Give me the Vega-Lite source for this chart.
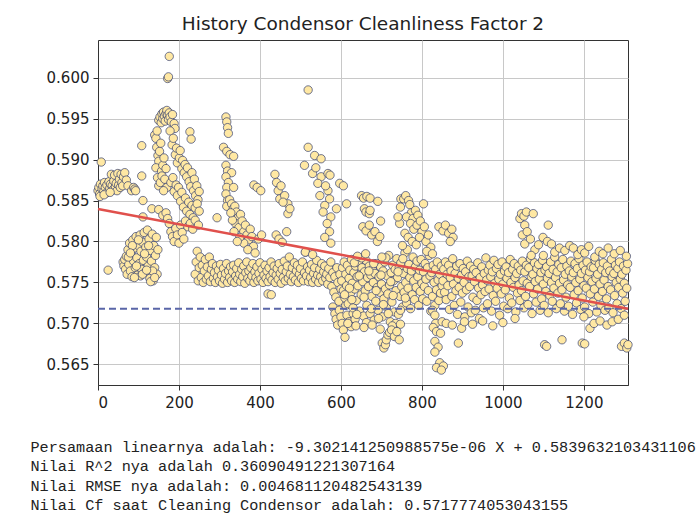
{
"$schema": "https://vega.github.io/schema/vega-lite/v6.json",
"width": 530, "height": 345,
"autosize": {"type": "none"},
"padding": {"left": 98, "top": 40, "right": 69, "bottom": 135},
"background": "white",
"title": {"text": "History Condensor Cleanliness Factor 2", "font": "DejaVu Sans", "fontSize": 18.5, "fontWeight": "normal", "color": "#222222", "offset": 7, "anchor": "middle"},
"datasets": {
"pts": [
{"x":0,"y":0.5862},{"x":2,"y":0.5866},{"x":4,"y":0.5858},{"x":6,"y":0.5870},{"x":8,"y":0.5897},{"x":10,"y":0.5864},{"x":12,"y":0.5868},{"x":14,"y":0.5861},{"x":16,"y":0.5872},{"x":18,"y":0.5866},{"x":20,"y":0.5859},{"x":22,"y":0.5869},{"x":25,"y":0.5765},{"x":27,"y":0.5873},{"x":29,"y":0.5865},{"x":31,"y":0.5870},{"x":33,"y":0.5882},{"x":35,"y":0.5868},{"x":37,"y":0.5863},{"x":39,"y":0.5874},{"x":41,"y":0.5881},{"x":43,"y":0.5867},{"x":45,"y":0.5871},{"x":47,"y":0.5862},{"x":49,"y":0.5883},{"x":51,"y":0.5869},{"x":53,"y":0.5876},{"x":55,"y":0.5866},{"x":57,"y":0.5882},{"x":59,"y":0.5872},{"x":61,"y":0.5868},{"x":63,"y":0.5879},{"x":66,"y":0.5884},{"x":70,"y":0.5875},{"x":74,"y":0.5868},{"x":83,"y":0.5862},{"x":88,"y":0.5866},{"x":91,"y":0.5864},{"x":93,"y":0.5862},{"x":5,"y":0.5855},{"x":15,"y":0.5857},{"x":30,"y":0.5860},
{"x":62,"y":0.5775},{"x":64,"y":0.5770},{"x":66,"y":0.5778},{"x":68,"y":0.5766},{"x":70,"y":0.5782},{"x":72,"y":0.5760},{"x":74,"y":0.5790},{"x":76,"y":0.5772},{"x":78,"y":0.5798},{"x":80,"y":0.5764},{"x":82,"y":0.5785},{"x":84,"y":0.5757},{"x":86,"y":0.5802},{"x":88,"y":0.5776},{"x":90,"y":0.5792},{"x":92,"y":0.5768},{"x":94,"y":0.5806},{"x":96,"y":0.5780},{"x":98,"y":0.5759},{"x":100,"y":0.5795},{"x":102,"y":0.5773},{"x":104,"y":0.5808},{"x":106,"y":0.5788},{"x":108,"y":0.5766},{"x":110,"y":0.5799},{"x":112,"y":0.5777},{"x":114,"y":0.5811},{"x":116,"y":0.5762},{"x":118,"y":0.5793},{"x":120,"y":0.5781},{"x":122,"y":0.5814},{"x":124,"y":0.5770},{"x":126,"y":0.5803},{"x":128,"y":0.5755},{"x":130,"y":0.5789},{"x":132,"y":0.5776},{"x":134,"y":0.5809},{"x":136,"y":0.5752},{"x":138,"y":0.5795},{"x":140,"y":0.5768},{"x":142,"y":0.5783},{"x":144,"y":0.5805},{"x":146,"y":0.5760},{"x":148,"y":0.5790},{"x":95,"y":0.5770},{"x":105,"y":0.5758},{"x":115,"y":0.5785},{"x":125,"y":0.5795},{"x":135,"y":0.5764},{"x":85,"y":0.5795},{"x":75,"y":0.5781},{"x":100,"y":0.5802},{"x":110,"y":0.5760},{"x":120,"y":0.5765},{"x":130,"y":0.5751},{"x":90,"y":0.5756},{"x":80,"y":0.5786},{"x":140,"y":0.5756},
{"x":108,"y":0.5917},{"x":108,"y":0.5880},{"x":111,"y":0.5850},{"x":133,"y":0.5840},{"x":111,"y":0.5830},{"x":150,"y":0.5839},
{"x":150,"y":0.5948},{"x":153,"y":0.5952},{"x":156,"y":0.5945},{"x":158,"y":0.5956},{"x":160,"y":0.5950},{"x":162,"y":0.5958},{"x":164,"y":0.5953},{"x":166,"y":0.5947},{"x":168,"y":0.5956},{"x":170,"y":0.5960},{"x":172,"y":0.5954},{"x":174,"y":0.5949},{"x":176,"y":0.5957},{"x":178,"y":0.5952},{"x":181,"y":0.5946},{"x":184,"y":0.5955},{"x":188,"y":0.5944},{"x":190,"y":0.5938},
{"x":172,"y":0.5999},{"x":174,"y":0.6001},{"x":176,"y":0.6026},
{"x":140,"y":0.5930},{"x":143,"y":0.5926},{"x":146,"y":0.5935},{"x":145,"y":0.5915},{"x":148,"y":0.5905},{"x":150,"y":0.5898},{"x":143,"y":0.5890},{"x":152,"y":0.5910},{"x":155,"y":0.5920},{"x":157,"y":0.5886},{"x":160,"y":0.5893},{"x":147,"y":0.5878},{"x":150,"y":0.5868},{"x":154,"y":0.5872},{"x":158,"y":0.5880},{"x":163,"y":0.5902},{"x":165,"y":0.5876},{"x":168,"y":0.5889},{"x":170,"y":0.5866},{"x":162,"y":0.5862},
{"x":178,"y":0.5935},{"x":183,"y":0.5918},{"x":186,"y":0.5926},{"x":191,"y":0.5906},{"x":194,"y":0.5914},{"x":196,"y":0.5896},{"x":201,"y":0.5902},{"x":203,"y":0.5911},{"x":207,"y":0.5889},{"x":209,"y":0.5899},{"x":213,"y":0.5884},{"x":215,"y":0.5894},{"x":219,"y":0.5879},{"x":221,"y":0.5890},{"x":225,"y":0.5873},{"x":227,"y":0.5934},{"x":230,"y":0.5925},{"x":229,"y":0.5867},{"x":232,"y":0.5884},{"x":236,"y":0.5862},{"x":238,"y":0.5876},{"x":241,"y":0.5856},{"x":244,"y":0.5868},{"x":247,"y":0.5851},{"x":250,"y":0.5861},{"x":180,"y":0.5872},{"x":185,"y":0.5878},{"x":188,"y":0.5861},{"x":193,"y":0.5869},{"x":196,"y":0.5856},{"x":199,"y":0.5866},{"x":204,"y":0.5849},{"x":207,"y":0.5860},{"x":211,"y":0.5842},{"x":216,"y":0.5853},{"x":219,"y":0.5837},{"x":224,"y":0.5848},{"x":227,"y":0.5833},{"x":232,"y":0.5844},{"x":235,"y":0.5829},{"x":240,"y":0.5841},{"x":245,"y":0.5846},{"x":250,"y":0.5837},
{"x":160,"y":0.5832},{"x":168,"y":0.5835},{"x":172,"y":0.5828},{"x":176,"y":0.5822},{"x":180,"y":0.5812},{"x":184,"y":0.5806},{"x":188,"y":0.5800},{"x":192,"y":0.5816},{"x":196,"y":0.5808},{"x":200,"y":0.5798},{"x":204,"y":0.5820},{"x":208,"y":0.5811},{"x":212,"y":0.5803},{"x":216,"y":0.5825},{"x":222,"y":0.5818},{"x":228,"y":0.5822},{"x":234,"y":0.5815},{"x":240,"y":0.5826},{"x":248,"y":0.5820},
{"x":240,"y":0.5760},{"x":242.5,"y":0.5775},{"x":245,"y":0.5788},{"x":247.5,"y":0.5752},{"x":250,"y":0.5768},{"x":252.5,"y":0.5781},{"x":255,"y":0.5756},{"x":257.5,"y":0.5771},{"x":260,"y":0.5750},{"x":262.5,"y":0.5764},{"x":265,"y":0.5778},{"x":267.5,"y":0.5754},{"x":270,"y":0.5769},{"x":272.5,"y":0.5758},{"x":275,"y":0.5781},{"x":277.5,"y":0.5751},{"x":280,"y":0.5766},{"x":282.5,"y":0.5773},{"x":285,"y":0.5755},{"x":287.5,"y":0.5762},{"x":290,"y":0.5750},{"x":292.5,"y":0.5770},{"x":295,"y":0.5757},{"x":297.5,"y":0.5765},{"x":300,"y":0.5752},{"x":302.5,"y":0.5772},{"x":305,"y":0.5759},{"x":307.5,"y":0.5749},{"x":310,"y":0.5767},{"x":312.5,"y":0.5754},{"x":315,"y":0.5761},{"x":317.5,"y":0.5773},{"x":320,"y":0.5750},{"x":322.5,"y":0.5764},{"x":325,"y":0.5756},{"x":327.5,"y":0.5769},{"x":330,"y":0.5752},
{"x":332.5,"y":0.5763},{"x":335,"y":0.5771},{"x":337.5,"y":0.5750},{"x":340,"y":0.5758},{"x":342.5,"y":0.5767},{"x":345,"y":0.5754},{"x":347.5,"y":0.5774},{"x":350,"y":0.5760},{"x":352.5,"y":0.5751},{"x":355,"y":0.5766},{"x":357.5,"y":0.5757},{"x":360,"y":0.5770},{"x":362.5,"y":0.5749},{"x":365,"y":0.5762},{"x":367.5,"y":0.5775},{"x":370,"y":0.5755},{"x":372.5,"y":0.5764},{"x":375,"y":0.5752},{"x":377.5,"y":0.5768},{"x":380,"y":0.5758},{"x":382.5,"y":0.5773},{"x":385,"y":0.5750},{"x":387.5,"y":0.5763},{"x":390,"y":0.5756},{"x":392.5,"y":0.5769},{"x":395,"y":0.5752},{"x":397.5,"y":0.5761},{"x":400,"y":0.5774},{"x":402.5,"y":0.5754},{"x":405,"y":0.5766},{"x":407.5,"y":0.5750},{"x":410,"y":0.5759},{"x":412.5,"y":0.5771},{"x":415,"y":0.5755},{"x":417.5,"y":0.5764},{"x":420,"y":0.5751},{"x":422.5,"y":0.5768},{"x":425,"y":0.5757},{"x":427.5,"y":0.5775},{"x":430,"y":0.5753},{"x":432.5,"y":0.5762},{"x":435,"y":0.5770},{"x":437.5,"y":0.5750},{"x":440,"y":0.5759},{"x":442.5,"y":0.5767},{"x":445,"y":0.5754},{"x":447.5,"y":0.5773},{"x":450,"y":0.5761},{"x":452.5,"y":0.5749},{"x":455,"y":0.5766},{"x":457.5,"y":0.5756},{"x":460,"y":0.5776},{"x":462.5,"y":0.5752},{"x":465,"y":0.5763},{"x":467.5,"y":0.5770},{"x":470,"y":0.5755},{"x":472.5,"y":0.5781},{"x":475,"y":0.5760},{"x":477.5,"y":0.5751},{"x":480,"y":0.5768},{"x":482.5,"y":0.5757},{"x":485,"y":0.5774},{"x":487.5,"y":0.5753},{"x":490,"y":0.5764},{"x":492.5,"y":0.5771},{"x":495,"y":0.5750},{"x":497.5,"y":0.5760},{"x":500,"y":0.5767},{"x":502.5,"y":0.5755},{"x":505,"y":0.5775},{"x":507.5,"y":0.5752},{"x":510,"y":0.5762},{"x":512.5,"y":0.5787},{"x":515,"y":0.5758},{"x":517.5,"y":0.5769},{"x":520,"y":0.5751},{"x":522.5,"y":0.5765},{"x":525,"y":0.5756},{"x":527.5,"y":0.5772},{"x":530,"y":0.5750},{"x":532.5,"y":0.5761},{"x":535,"y":0.5768},{"x":537.5,"y":0.5754},{"x":540,"y":0.5777},{"x":542.5,"y":0.5759},{"x":545,"y":0.5750},{"x":547.5,"y":0.5766},{"x":550,"y":0.5757},{"x":552.5,"y":0.5773},{"x":555,"y":0.5752},{"x":557.5,"y":0.5763},{"x":560,"y":0.5770},{"x":562.5,"y":0.5755},{"x":565,"y":0.5760},{"x":567.5,"y":0.5748},{"x":570,"y":0.5767},{"x":572.5,"y":0.5756},{"x":575,"y":0.5775},{"x":577.5,"y":0.5745},{"x":580,"y":0.5762},{"x":582.5,"y":0.5738},{"x":585,"y":0.5757},{"x":587.5,"y":0.5732},{"x":590,"y":0.5768},{"x":592.5,"y":0.5750},{"x":595,"y":0.5727},{"x":597.5,"y":0.5760},{"x":600,"y":0.5742},
{"x":294,"y":0.5829},{"x":316,"y":0.5952},{"x":318,"y":0.5946},{"x":320,"y":0.5939},{"x":322,"y":0.5932},{"x":310,"y":0.5915},{"x":318,"y":0.5910},{"x":326,"y":0.5906},{"x":335,"y":0.5904},{"x":316,"y":0.5893},{"x":320,"y":0.5886},{"x":330,"y":0.5884},{"x":316,"y":0.5879},{"x":322,"y":0.5872},{"x":318,"y":0.5866},{"x":335,"y":0.5866},{"x":316,"y":0.5858},{"x":320,"y":0.5850},{"x":318,"y":0.5843},
{"x":325,"y":0.5851},{"x":330,"y":0.5846},{"x":334,"y":0.5840},{"x":338,"y":0.5843},{"x":342,"y":0.5836},{"x":346,"y":0.5829},{"x":340,"y":0.5822},{"x":348,"y":0.5817},{"x":352,"y":0.5833},{"x":356,"y":0.5825},{"x":360,"y":0.5812},{"x":364,"y":0.5820},{"x":368,"y":0.5808},{"x":372,"y":0.5802},{"x":360,"y":0.5798},{"x":376,"y":0.5815},{"x":380,"y":0.5806},{"x":384,"y":0.5794},{"x":350,"y":0.5805},{"x":344,"y":0.5800},{"x":336,"y":0.5812},{"x":332,"y":0.5826},{"x":328,"y":0.5835},{"x":370,"y":0.5790},{"x":388,"y":0.5786},{"x":396,"y":0.5803},{"x":404,"y":0.5808},{"x":385,"y":0.5869},{"x":393,"y":0.5866},{"x":402,"y":0.5862},{"x":420,"y":0.5736},{"x":428,"y":0.5735},
{"x":437,"y":0.5882},{"x":441,"y":0.5872},{"x":445,"y":0.5862},{"x":449,"y":0.5852},{"x":461,"y":0.5856},{"x":469,"y":0.5846},{"x":469,"y":0.5834},{"x":452,"y":0.5868},{"x":457,"y":0.5848},{"x":474,"y":0.5840},{"x":440,"y":0.5808},{"x":447,"y":0.5803},{"x":455,"y":0.5799},{"x":466,"y":0.5812},
{"x":519,"y":0.5985},{"x":519,"y":0.5915},{"x":535,"y":0.5905},{"x":551,"y":0.5901},{"x":510,"y":0.5893},{"x":530,"y":0.5883},{"x":551,"y":0.5879},{"x":568,"y":0.5883},{"x":543,"y":0.5871},{"x":568,"y":0.5862},{"x":572,"y":0.5852},{"x":560,"y":0.5844},{"x":556,"y":0.5836},{"x":589,"y":0.5840},{"x":597,"y":0.5871},{"x":606,"y":0.5868},{"x":614,"y":0.5846},{"x":573,"y":0.5881},{"x":562,"y":0.5868},{"x":575,"y":0.5830},{"x":566,"y":0.5822},{"x":572,"y":0.5812},{"x":560,"y":0.5805},{"x":575,"y":0.5798},{"x":512,"y":0.5787},{"x":530,"y":0.5784},{"x":548,"y":0.5856},{"x":538,"y":0.5890},
{"x":580,"y":0.5720},{"x":585,"y":0.5712},{"x":588,"y":0.5705},{"x":592,"y":0.5698},{"x":596,"y":0.5716},{"x":600,"y":0.5708},{"x":603,"y":0.5700},{"x":606,"y":0.5692},{"x":610,"y":0.5683},{"x":612,"y":0.5722},{"x":615,"y":0.5710},{"x":620,"y":0.5702},{"x":625,"y":0.5696},{"x":630,"y":0.5712},{"x":635,"y":0.5705},
{"x":602,"y":0.5752},{"x":604,"y":0.5768},{"x":606,"y":0.5740},{"x":608,"y":0.5775},{"x":610,"y":0.5731},{"x":612,"y":0.5760},{"x":614,"y":0.5746},{"x":616,"y":0.5771},{"x":618,"y":0.5724},{"x":620,"y":0.5755},{"x":622,"y":0.5765},{"x":624,"y":0.5737},{"x":626,"y":0.5778},{"x":628,"y":0.5749},{"x":630,"y":0.5719},{"x":632,"y":0.5762},{"x":634,"y":0.5742},{"x":636,"y":0.5770},{"x":638,"y":0.5728},{"x":640,"y":0.5757},{"x":642,"y":0.5746},{"x":644,"y":0.5774},{"x":646,"y":0.5715},{"x":648,"y":0.5760},{"x":650,"y":0.5735},{"x":652,"y":0.5768},{"x":654,"y":0.5751},{"x":656,"y":0.5709},{"x":658,"y":0.5763},{"x":660,"y":0.5740},{"x":662,"y":0.5777},{"x":664,"y":0.5722},{"x":666,"y":0.5756},{"x":668,"y":0.5745},{"x":670,"y":0.5770},{"x":672,"y":0.5712},{"x":674,"y":0.5759},{"x":676,"y":0.5733},{"x":678,"y":0.5766},{"x":680,"y":0.5750},{"x":682,"y":0.5704},{"x":684,"y":0.5761},{"x":686,"y":0.5727},{"x":688,"y":0.5773},{"x":690,"y":0.5744},{"x":692,"y":0.5716},{"x":694,"y":0.5757},{"x":696,"y":0.5738},{"x":698,"y":0.5769},{"x":700,"y":0.5748},{"x":702,"y":0.5708},{"x":704,"y":0.5764},{"x":706,"y":0.5730},{"x":708,"y":0.5775},{"x":710,"y":0.5742},{"x":712,"y":0.5720},{"x":714,"y":0.5758},{"x":716,"y":0.5736},{"x":718,"y":0.5783},{"x":720,"y":0.5747},{"x":722,"y":0.5702},{"x":724,"y":0.5762},{"x":726,"y":0.5726},{"x":728,"y":0.5771},{"x":730,"y":0.5752},{"x":732,"y":0.5714},{"x":734,"y":0.5766},{"x":736,"y":0.5740},{"x":738,"y":0.5779},{"x":740,"y":0.5756},{"x":742,"y":0.5711},{"x":744,"y":0.5768},{"x":746,"y":0.5733},{"x":748,"y":0.5774},{"x":750,"y":0.5745},{"x":752,"y":0.5720},{"x":754,"y":0.5761},{"x":756,"y":0.5738},{"x":758,"y":0.5786},{"x":760,"y":0.5750},{"x":762,"y":0.5725},{"x":764,"y":0.5767},{"x":766,"y":0.5743},{"x":768,"y":0.5772},{"x":770,"y":0.5756},{"x":772,"y":0.5718},{"x":774,"y":0.5764},{"x":776,"y":0.5735},{"x":778,"y":0.5781},{"x":780,"y":0.5752},{"x":782,"y":0.5729},{"x":784,"y":0.5769},{"x":786,"y":0.5744},{"x":788,"y":0.5776},{"x":790,"y":0.5757},{"x":792,"y":0.5722},{"x":794,"y":0.5765},{"x":796,"y":0.5739},{"x":798,"y":0.5778},{"x":800,"y":0.5749},{"x":802,"y":0.5730},{"x":804,"y":0.5763},{"x":806,"y":0.5745},{"x":808,"y":0.5773},{"x":810,"y":0.5754},{"x":812,"y":0.5727},{"x":814,"y":0.5768},{"x":816,"y":0.5740},{"x":818,"y":0.5783},{"x":820,"y":0.5758},{"x":822,"y":0.5715},{"x":824,"y":0.5762},{"x":826,"y":0.5733},{"x":828,"y":0.5771},{"x":830,"y":0.5750},{"x":832,"y":0.5722},{"x":834,"y":0.5766},{"x":836,"y":0.5741},{"x":838,"y":0.5775},{"x":840,"y":0.5753},{"x":842,"y":0.5728},{"x":844,"y":0.5760},{"x":846,"y":0.5737},{"x":848,"y":0.5770},{"x":850,"y":0.5746},
{"x":621,"y":0.5743},{"x":627,"y":0.5729},{"x":633,"y":0.5774},{"x":639,"y":0.5711},{"x":645,"y":0.5758},{"x":651,"y":0.5780},{"x":657,"y":0.5732},{"x":663,"y":0.5701},{"x":669,"y":0.5764},{"x":675,"y":0.5718},{"x":681,"y":0.5773},{"x":687,"y":0.5740},{"x":693,"y":0.5706},{"x":699,"y":0.5759},{"x":705,"y":0.5723},{"x":711,"y":0.5780},{"x":717,"y":0.5712},{"x":723,"y":0.5751},{"x":729,"y":0.5734},{"x":735,"y":0.5700},{"x":741,"y":0.5763},{"x":747,"y":0.5716},{"x":753,"y":0.5779},{"x":759,"y":0.5731},{"x":617,"y":0.5700},{"x":637,"y":0.5697},{"x":657,"y":0.5695},{"x":677,"y":0.5698},{"x":697,"y":0.5693},{"x":727,"y":0.5697},{"x":747,"y":0.5699},{"x":609,"y":0.5735},{"x":641,"y":0.5782},{"x":661,"y":0.5785},{"x":701,"y":0.5781},
{"x":702,"y":0.5676},{"x":706,"y":0.5670},{"x":710,"y":0.5674},{"x":712,"y":0.5680},{"x":716,"y":0.5686},{"x":720,"y":0.5689},{"x":725,"y":0.5692},{"x":732,"y":0.5684},{"x":738,"y":0.5690},{"x":744,"y":0.5680},
{"x":651,"y":0.5856},{"x":656,"y":0.5853},{"x":664,"y":0.5855},{"x":672,"y":0.5853},{"x":691,"y":0.5849},{"x":658,"y":0.5840},{"x":662,"y":0.5836},{"x":670,"y":0.5834},{"x":672,"y":0.5838},{"x":698,"y":0.5825},{"x":654,"y":0.5818},{"x":662,"y":0.5813},{"x":670,"y":0.5820},{"x":676,"y":0.5808},{"x":684,"y":0.5812},{"x":690,"y":0.5800},{"x":696,"y":0.5806},
{"x":748,"y":0.5852},{"x":755,"y":0.5852},{"x":760,"y":0.5856},{"x":767,"y":0.5850},{"x":770,"y":0.5845},{"x":774,"y":0.5835},{"x":762,"y":0.5830},{"x":778,"y":0.5828},{"x":784,"y":0.5838},{"x":790,"y":0.5832},{"x":772,"y":0.5822},{"x":780,"y":0.5815},{"x":788,"y":0.5820},{"x":796,"y":0.5825},{"x":800,"y":0.5812},{"x":804,"y":0.5846},{"x":806,"y":0.5818},{"x":758,"y":0.5810},{"x":766,"y":0.5805},{"x":776,"y":0.5800},{"x":786,"y":0.5796},{"x":794,"y":0.5805},{"x":810,"y":0.5800},{"x":816,"y":0.5808},{"x":822,"y":0.5793},{"x":812,"y":0.5788},{"x":826,"y":0.5785},{"x":764,"y":0.5790},{"x":752,"y":0.5795},{"x":745,"y":0.5822},{"x":741,"y":0.5830},{"x":747,"y":0.5842},
{"x":842,"y":0.5818},{"x":852,"y":0.5813},{"x":858,"y":0.5820},{"x":866,"y":0.5810},{"x":874,"y":0.5815},{"x":877,"y":0.5805},{"x":870,"y":0.5800},
{"x":826,"y":0.5716},{"x":832,"y":0.5710},{"x":834,"y":0.5700},{"x":828,"y":0.5695},{"x":836,"y":0.5690},{"x":832,"y":0.5678},{"x":840,"y":0.5671},{"x":832,"y":0.5665},{"x":844,"y":0.5652},{"x":836,"y":0.5646},{"x":853,"y":0.5648},{"x":848,"y":0.5643},{"x":846,"y":0.5688},{"x":850,"y":0.5702},{"x":890,"y":0.5676},{"x":898,"y":0.5694},
{"x":852,"y":0.5752},{"x":854,"y":0.5766},{"x":856,"y":0.5738},{"x":858,"y":0.5775},{"x":860,"y":0.5729},{"x":862,"y":0.5760},{"x":864,"y":0.5746},{"x":866,"y":0.5771},{"x":868,"y":0.5717},{"x":870,"y":0.5756},{"x":872,"y":0.5764},{"x":874,"y":0.5733},{"x":876,"y":0.5779},{"x":878,"y":0.5748},{"x":880,"y":0.5722},{"x":882,"y":0.5761},{"x":884,"y":0.5740},{"x":886,"y":0.5770},{"x":888,"y":0.5711},{"x":890,"y":0.5755},{"x":892,"y":0.5744},{"x":894,"y":0.5773},{"x":896,"y":0.5726},{"x":898,"y":0.5759},{"x":900,"y":0.5737},{"x":902,"y":0.5767},{"x":904,"y":0.5750},{"x":906,"y":0.5708},{"x":908,"y":0.5763},{"x":910,"y":0.5741},{"x":912,"y":0.5776},{"x":914,"y":0.5720},{"x":916,"y":0.5757},{"x":918,"y":0.5745},{"x":920,"y":0.5770},{"x":922,"y":0.5713},{"x":924,"y":0.5758},{"x":926,"y":0.5732},{"x":928,"y":0.5766},{"x":930,"y":0.5751},{"x":932,"y":0.5716},{"x":934,"y":0.5762},{"x":936,"y":0.5728},{"x":938,"y":0.5774},{"x":940,"y":0.5743},{"x":942,"y":0.5706},{"x":944,"y":0.5756},{"x":946,"y":0.5735},{"x":948,"y":0.5769},{"x":950,"y":0.5747},{"x":952,"y":0.5719},{"x":954,"y":0.5761},{"x":956,"y":0.5739},{"x":958,"y":0.5780},{"x":960,"y":0.5753},{"x":962,"y":0.5724},{"x":964,"y":0.5765},{"x":966,"y":0.5742},{"x":968,"y":0.5771},{"x":970,"y":0.5757},{"x":972,"y":0.5715},{"x":974,"y":0.5763},{"x":976,"y":0.5734},{"x":978,"y":0.5777},{"x":980,"y":0.5749},{"x":982,"y":0.5727},{"x":984,"y":0.5767},{"x":986,"y":0.5743},{"x":988,"y":0.5772},{"x":990,"y":0.5754},{"x":992,"y":0.5710},{"x":994,"y":0.5760},{"x":996,"y":0.5736},{"x":998,"y":0.5775},{"x":1000,"y":0.5748},{"x":1002,"y":0.5721},{"x":1004,"y":0.5764},{"x":1006,"y":0.5741},{"x":1008,"y":0.5769},{"x":1010,"y":0.5755},{"x":1012,"y":0.5718},{"x":1014,"y":0.5762},{"x":1016,"y":0.5731},{"x":1018,"y":0.5778},{"x":1020,"y":0.5750},{"x":1022,"y":0.5725},{"x":1024,"y":0.5766},{"x":1026,"y":0.5744},{"x":1028,"y":0.5773},{"x":1030,"y":0.5756},{"x":1032,"y":0.5714},{"x":1034,"y":0.5761},{"x":1036,"y":0.5737},{"x":1038,"y":0.5770},{"x":1040,"y":0.5747},{"x":1042,"y":0.5728},{"x":1044,"y":0.5765},{"x":1046,"y":0.5740},{"x":1048,"y":0.5776},{"x":1050,"y":0.5752},{"x":1052,"y":0.5719},{"x":1054,"y":0.5763},{"x":1056,"y":0.5733},{"x":1058,"y":0.5771},{"x":1060,"y":0.5749},{"x":1062,"y":0.5723},{"x":1064,"y":0.5768},{"x":1066,"y":0.5745},{"x":1068,"y":0.5779},{"x":1070,"y":0.5757},{"x":1072,"y":0.5712},{"x":1074,"y":0.5760},{"x":1076,"y":0.5736},{"x":1078,"y":0.5774},{"x":1080,"y":0.5751},{"x":1082,"y":0.5726},{"x":1084,"y":0.5767},{"x":1086,"y":0.5742},{"x":1088,"y":0.5772},{"x":1090,"y":0.5754},{"x":1092,"y":0.5716},{"x":1094,"y":0.5762},{"x":1096,"y":0.5730},{"x":1098,"y":0.5777},{"x":1100,"y":0.5748},{"x":1102,"y":0.5722},{"x":1104,"y":0.5765},{"x":1106,"y":0.5739},{"x":1108,"y":0.5769},{"x":1110,"y":0.5755},{"x":1112,"y":0.5713},{"x":1114,"y":0.5761},{"x":1116,"y":0.5734},{"x":1118,"y":0.5775},{"x":1120,"y":0.5750},{"x":1122,"y":0.5727},{"x":1124,"y":0.5766},{"x":1126,"y":0.5743},{"x":1128,"y":0.5781},{"x":1130,"y":0.5756},{"x":1132,"y":0.5718},{"x":1134,"y":0.5763},{"x":1136,"y":0.5737},{"x":1138,"y":0.5772},{"x":1140,"y":0.5749},{"x":1142,"y":0.5724},{"x":1144,"y":0.5768},{"x":1146,"y":0.5741},{"x":1148,"y":0.5778},{"x":1150,"y":0.5753},{"x":1152,"y":0.5715},{"x":1154,"y":0.5760},{"x":1156,"y":0.5732},{"x":1158,"y":0.5770},{"x":1160,"y":0.5747},{"x":1162,"y":0.5721},{"x":1164,"y":0.5764},{"x":1166,"y":0.5744},{"x":1168,"y":0.5776},{"x":1170,"y":0.5757},{"x":1172,"y":0.5711},{"x":1174,"y":0.5762},{"x":1176,"y":0.5735},{"x":1178,"y":0.5773},{"x":1180,"y":0.5750},{"x":1182,"y":0.5725},{"x":1184,"y":0.5767},{"x":1186,"y":0.5740},{"x":1188,"y":0.5779},{"x":1190,"y":0.5754},{"x":1192,"y":0.5717},{"x":1194,"y":0.5761},{"x":1196,"y":0.5731},{"x":1198,"y":0.5771},{"x":1200,"y":0.5746},{"x":1202,"y":0.5720},{"x":1204,"y":0.5765},{"x":1206,"y":0.5743},{"x":1208,"y":0.5775},{"x":1210,"y":0.5756},{"x":1212,"y":0.5712},{"x":1214,"y":0.5763},{"x":1216,"y":0.5736},{"x":1218,"y":0.5769},{"x":1220,"y":0.5751},{"x":1222,"y":0.5726},{"x":1224,"y":0.5768},{"x":1226,"y":0.5742},{"x":1228,"y":0.5777},{"x":1230,"y":0.5755},{"x":1232,"y":0.5714},{"x":1234,"y":0.5760},{"x":1236,"y":0.5733},{"x":1238,"y":0.5772},{"x":1240,"y":0.5748},{"x":1242,"y":0.5722},{"x":1244,"y":0.5766},{"x":1246,"y":0.5739},{"x":1248,"y":0.5774},{"x":1250,"y":0.5753},{"x":1252,"y":0.5716},{"x":1254,"y":0.5762},{"x":1256,"y":0.5730},{"x":1258,"y":0.5770},{"x":1260,"y":0.5745},{"x":1262,"y":0.5719},{"x":1264,"y":0.5764},{"x":1266,"y":0.5741},{"x":1268,"y":0.5778},{"x":1270,"y":0.5757},{"x":1272,"y":0.5713},{"x":1274,"y":0.5761},{"x":1276,"y":0.5734},{"x":1278,"y":0.5771},{"x":1280,"y":0.5750},{"x":1282,"y":0.5724},{"x":1284,"y":0.5767},{"x":1286,"y":0.5744},{"x":1288,"y":0.5775},{"x":1290,"y":0.5754},{"x":1292,"y":0.5718},{"x":1294,"y":0.5760},{"x":1296,"y":0.5737},{"x":1298,"y":0.5770},{"x":1300,"y":0.5749},{"x":1302,"y":0.5727},{"x":1304,"y":0.5765},{"x":1306,"y":0.5743},{"x":1308,"y":0.5773},
{"x":860,"y":0.5700},{"x":875,"y":0.5698},{"x":905,"y":0.5702},{"x":925,"y":0.5699},{"x":950,"y":0.5703},{"x":975,"y":0.5697},{"x":1000,"y":0.5701},{"x":1030,"y":0.5706},{"x":1215,"y":0.5694},{"x":1225,"y":0.5700},{"x":1240,"y":0.5703},{"x":1257,"y":0.5698},{"x":1270,"y":0.5702},{"x":1200,"y":0.5708},{"x":1285,"y":0.5705},{"x":1300,"y":0.5710},
{"x":1042,"y":0.5828},{"x":1046,"y":0.5834},{"x":1052,"y":0.5831},{"x":1058,"y":0.5836},{"x":1054,"y":0.5820},{"x":1075,"y":0.5834},{"x":1112,"y":0.5820},{"x":1048,"y":0.5808},{"x":1060,"y":0.5812},{"x":1054,"y":0.5797},{"x":1068,"y":0.5803},{"x":1079,"y":0.5790},{"x":1088,"y":0.5796},{"x":1099,"y":0.5805},{"x":1110,"y":0.5800},{"x":1120,"y":0.5797},{"x":1128,"y":0.5787},{"x":1140,"y":0.5792},{"x":1153,"y":0.5789},{"x":1165,"y":0.5795},{"x":1174,"y":0.5792},{"x":1185,"y":0.5784},{"x":1194,"y":0.5790},{"x":1202,"y":0.5786},{"x":1212,"y":0.5794},{"x":1227,"y":0.5781},{"x":1238,"y":0.5788},{"x":1247,"y":0.5785},{"x":1260,"y":0.5792},{"x":1275,"y":0.5785},{"x":1290,"y":0.5789},{"x":1305,"y":0.5782},{"x":1100,"y":0.5783},{"x":1070,"y":0.5783},
{"x":1103,"y":0.5674},{"x":1108,"y":0.5672},{"x":1146,"y":0.5680},{"x":1196,"y":0.5676},{"x":1202,"y":0.5675},{"x":1293,"y":0.5672},{"x":1300,"y":0.5676},{"x":1306,"y":0.5670},{"x":1309,"y":0.5674}
],
"fit": [{"x": 0, "y": 0.5839632}, {"x": 1309, "y": 0.5717869}],
"cf": [{"x": 0, "y": 0.5717774}, {"x": 1309, "y": 0.5717774}]
},
"layer": [
{"data": {"name": "pts"},
 "mark": {"type": "point", "shape": "circle", "filled": true, "fill": "#ffe8a3", "stroke": "#2e3a6e", "strokeOpacity": 0.85, "strokeWidth": 0.8, "size": 70, "opacity": 1},
 "encoding": {
  "x": {"field": "x", "type": "quantitative", "scale": {"domain": [0, 1309], "nice": false, "zero": false},
        "axis": {"values": [0, 200, 400, 600, 800, 1000, 1200], "format": "d",
                 "title": ["Persamaan linearnya adalah: -9.302141250988575e-06 X + 0.5839632103431106", "Nilai R^2 nya adalah 0.36090491221307164", "Nilai RMSE nya adalah: 0.004681120482543139", "Nilai Cf saat Cleaning Condensor adalah: 0.5717774053043155"],
                 "titleFont": "Liberation Mono", "titleFontSize": 15.2, "titleFontWeight": "normal", "titleColor": "#222222",
                 "titleAnchor": "start", "titleAlign": "left", "titleBaseline": "alphabetic", "titleX": -68, "titleY": 66, "titleLineHeight": 19.5, "labelPadding": 5}},
  "y": {"field": "y", "type": "quantitative", "scale": {"domain": [0.56248, 0.6046], "nice": false, "zero": false},
        "axis": {"values": [0.565, 0.57, 0.575, 0.58, 0.585, 0.59, 0.595, 0.6], "format": ".3f", "title": null, "labelPadding": 4}}
 }},
{"data": {"name": "cf"},
 "mark": {"type": "line", "color": "#5a66a8", "strokeWidth": 2, "strokeDash": [7, 4]},
 "encoding": {"x": {"field": "x", "type": "quantitative"}, "y": {"field": "y", "type": "quantitative"}}},
{"data": {"name": "fit"},
 "mark": {"type": "line", "color": "#e0504c", "strokeWidth": 2.5},
 "encoding": {"x": {"field": "x", "type": "quantitative"}, "y": {"field": "y", "type": "quantitative"}}}
],
"config": {
 "view": {"stroke": "#333333", "strokeWidth": 1},
 "axis": {"grid": true, "gridColor": "#c8c8c8", "gridWidth": 1, "domainColor": "#333333", "domainWidth": 1, "tickColor": "#333333", "tickSize": 5, "labelFont": "DejaVu Sans", "labelFontSize": 15, "labelColor": "#222222"}
}
}
